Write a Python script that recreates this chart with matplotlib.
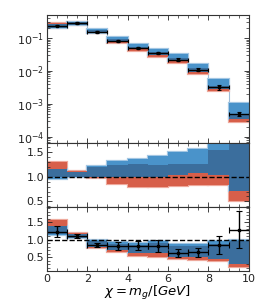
import numpy as np
import matplotlib
matplotlib.use('Agg')
import matplotlib.pyplot as plt
from matplotlib.ticker import MultipleLocator, LogLocator, NullFormatter

# ---------------- data ----------------
edges = [0, 1, 2, 3, 4, 5, 6, 7, 8, 9, 10]

# top panel (absolute)
data_top = [0.236, 0.285, 0.155, 0.083, 0.050, 0.035, 0.022, 0.011, 0.0032, 0.0005]
data_top_err = [0.012, 0.012, 0.008, 0.005, 0.003, 0.003, 0.002, 0.001, 0.0006, 0.00008]
red_top_lo = [0.205, 0.250, 0.140, 0.070, 0.039, 0.026, 0.0175, 0.0083, 0.0024, 0.000275]
red_top_hi = [0.290, 0.300, 0.180, 0.095, 0.055, 0.038, 0.0250, 0.0120, 0.0035, 0.00045]
blue_top_lo = [0.200, 0.250, 0.145, 0.078, 0.045, 0.030, 0.0200, 0.0095, 0.0028, 0.00035]
blue_top_hi = [0.260, 0.310, 0.187, 0.107, 0.067, 0.045, 0.0330, 0.0163, 0.0057, 0.00107]

# middle panel (ratio of predictions)
red_mid_lo = [1.00, 1.00, 0.98, 0.86, 0.80, 0.80, 0.82, 0.84, 0.83, 0.51]
red_mid_hi = [1.29, 1.12, 1.20, 1.24, 1.26, 1.24, 1.25, 1.25, 1.54, 2.00]
blue_mid_lo = [0.95, 0.99, 0.99, 1.00, 1.00, 1.00, 1.04, 1.07, 1.03, 0.71]
blue_mid_hi = [1.16, 1.10, 1.22, 1.31, 1.36, 1.42, 1.51, 1.57, 1.68, 2.00]

# bottom panel (ratio to data)
ratio_data = [1.23, 1.11, 0.85, 0.82, 0.83, 0.82, 0.62, 0.64, 0.85, 1.29]
ratio_err = [0.16, 0.06, 0.07, 0.11, 0.13, 0.16, 0.11, 0.12, 0.25, 0.52]
red_bot_lo = [1.15, 1.05, 0.77, 0.64, 0.55, 0.52, 0.45, 0.43, 0.40, 0.23]
red_bot_hi = [1.56, 1.19, 0.96, 0.89, 0.86, 0.90, 0.81, 0.83, 0.89, 0.97]
blue_bot_lo = [1.12, 1.04, 0.80, 0.70, 0.61, 0.62, 0.51, 0.50, 0.46, 0.32]
blue_bot_hi = [1.40, 1.16, 1.00, 0.94, 0.92, 0.96, 0.88, 0.89, 0.96, 1.00]

RED = '#d75f4a'
RED_L = '#eea99c'
BLUE = '#4a93ca'
BLUE_L = '#a3c6e3'
DARK = '#3b6e9d'

edges_a = np.asarray(edges, dtype=float)
centers = 0.5 * (edges_a[:-1] + edges_a[1:])
widths = np.diff(edges_a)


def bands(ax, rlo, rhi, blo, bhi):
    rlo, rhi, blo, bhi = map(np.asarray, (rlo, rhi, blo, bhi))
    # light halos
    ax.bar(centers, rhi - rlo, bottom=rlo, width=widths, color=RED_L,
           edgecolor=RED_L, lw=1.6, zorder=0.5)
    ax.bar(centers, bhi - blo, bottom=blo, width=widths, color=BLUE_L,
           edgecolor=BLUE_L, lw=1.6, zorder=0.6)
    ax.bar(centers, rhi - rlo, bottom=rlo, width=widths, color=RED, lw=0, zorder=1)
    ax.bar(centers, bhi - blo, bottom=blo, width=widths, color=BLUE, lw=0, zorder=2)
    olo = np.maximum(rlo, blo)
    ohi = np.minimum(rhi, bhi)
    h = np.clip(ohi - olo, 0, None)
    ax.bar(centers, h, bottom=olo, width=widths, color=DARK, lw=0, zorder=3)


def style(ax):
    ax.set_xlim(0, 10)
    ax.tick_params(which='both', direction='in', top=True, right=True, labelsize=8,
                   colors='#222222', pad=2)
    ax.tick_params(which='major', length=3.5, width=0.6)
    ax.tick_params(which='minor', length=2, width=0.5)
    ax.xaxis.set_major_locator(MultipleLocator(2))
    ax.xaxis.set_minor_locator(MultipleLocator(0.5))
    for s in ax.spines.values():
        s.set_linewidth(0.8)
        s.set_color('#333333')
        s.set_zorder(10)


fig = plt.figure(figsize=(2.62, 3.06), dpi=100)
gs = fig.add_gridspec(3, 1, height_ratios=[2, 1, 1], hspace=0,
                      left=0.179, right=0.950, top=0.951, bottom=0.113)
ax1 = fig.add_subplot(gs[0])
ax2 = fig.add_subplot(gs[1], sharex=ax1)
ax3 = fig.add_subplot(gs[2], sharex=ax1)

# top
bands(ax1, red_top_lo, red_top_hi, blue_top_lo, blue_top_hi)
bt_c = np.sqrt(np.asarray(blue_top_lo) * np.asarray(blue_top_hi))
ax1.stairs(bt_c, edges_a, color='#9dbcd8', lw=0.8, zorder=0.4)
ax1.errorbar(centers, data_top, xerr=widths / 2, yerr=data_top_err, fmt='s', ms=2,
             color='black', elinewidth=1.0, capsize=1.5, capthick=0.8, zorder=6)
ax1.set_yscale('log')
ax1.set_ylim(10 ** -4.2, 10 ** -0.3)
ax1.yaxis.set_major_locator(LogLocator(base=10, numticks=10))
ax1.yaxis.set_minor_locator(LogLocator(base=10, subs=np.arange(2, 10) * 1.0, numticks=10))
ax1.yaxis.set_minor_formatter(NullFormatter())
style(ax1)
ax1.tick_params(labelbottom=False)

# middle
bands(ax2, red_mid_lo, red_mid_hi, blue_mid_lo, blue_mid_hi)
ax2.axhline(1.0, color='black', ls='--', lw=1.0, zorder=6)
ax2.set_ylim(0.38, 1.68)
ax2.set_yticks([0.5, 1.0, 1.5])
ax2.yaxis.set_minor_locator(MultipleLocator(0.1))
style(ax2)
ax2.tick_params(labelbottom=False)

# bottom
bands(ax3, red_bot_lo, red_bot_hi, blue_bot_lo, blue_bot_hi)
ax3.axhline(1.0, color='black', ls='--', lw=1.0, zorder=5)
ax3.errorbar(centers, ratio_data, xerr=widths / 2, yerr=ratio_err, fmt='s', ms=1.5,
             color='black', elinewidth=1.0, capsize=2, capthick=0.8, zorder=6)
ax3.set_ylim(0.1, 1.92)
ax3.set_yticks([0.5, 1.0, 1.5])
ax3.yaxis.set_minor_locator(MultipleLocator(0.1))
style(ax3)
ax3.set_xlabel(r'$\chi = m_g/[GeV]$', fontsize=9.5, labelpad=0)

fig.savefig('out.png', dpi=100)
